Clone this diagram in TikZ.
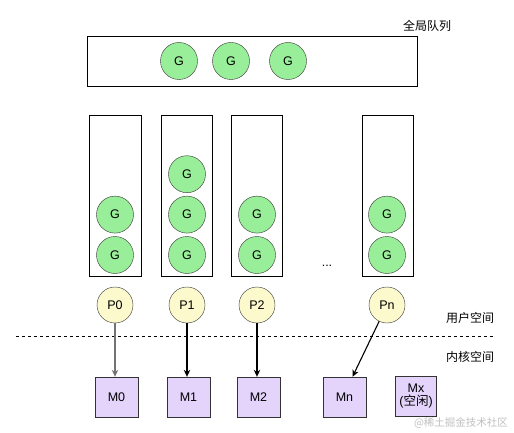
\documentclass[tikz,border=0pt]{standalone}
\usepackage{fontspec}
\setmainfont{Liberation Sans}
\newfontfamily\cjk{Noto Sans CJK SC}
\usepackage{xcolor}
\usepackage{tikz}
\usetikzlibrary{arrows.meta,positioning}
\definecolor{gGreen}{RGB}{153,238,153}
\definecolor{pYellow}{RGB}{252,250,204}
\definecolor{mPurple}{RGB}{228,212,252}
\definecolor{lineGray}{RGB}{51,51,51}

\begin{document}
\begin{tikzpicture}[
    x=1pt, y=-1pt,
    font=\fontsize{12.5pt}{14pt}\selectfont,
    node distance=3pt,
    queueBox/.style={
        rectangle,
        draw=black,
        line width=1pt,
        inner sep=0pt
    },
    gNode/.style={
        circle,
        draw=lineGray,
        fill=gGreen,
        minimum size=37pt,
        inner sep=0pt
    },
    pNode/.style={
        circle,
        draw=lineGray,
        fill=pYellow,
        minimum size=36pt,
        inner sep=0pt
    },
    mNode/.style={
        rectangle,
        draw=lineGray,
        fill=mPurple,
        minimum width=43pt,
        minimum height=40pt,
        inner sep=0pt,
        align=center,
        font=\fontsize{12.5pt}{13pt}\selectfont
    },
    spaceLabel/.style={font=\fontsize{12pt}{14pt}\selectfont\cjk},
    arrow/.style={-{Stealth[length=7pt,width=6.5pt]}, line width=1.1pt, draw=black}
]
    \useasboundingbox (0,0) rectangle (514,433);

    % global run queue
    \node[queueBox, minimum width=330pt, minimum height=50pt] (queue) at (252,62) {};
    \node[spaceLabel] (queueLabel) at (427,26) {全局队列};
    \node[gNode] (gq1) at (179,61) {G};
    \node[gNode] (gq2) at (231,61) {G};
    \node[gNode] (gq3) at (288,61) {G};

    % local run queues
    \node[queueBox, minimum width=52pt, minimum height=160pt] (lq0) at (115,196) {};
    \node[queueBox, minimum width=51pt, minimum height=160pt] (lq1) at (186.5,196) {};
    \node[queueBox, minimum width=51pt, minimum height=160pt] (lq2) at (256.5,196) {};
    \node[queueBox, minimum width=51pt, minimum height=160pt] (lqn) at (387.5,196) {};

    \node[gNode] (g0a) at (115,255) {G};
    \node[gNode, above=of g0a] (g0b) {G};
    \node[gNode] (g1a) at (187,255) {G};
    \node[gNode, above=of g1a] (g1b) {G};
    \node[gNode, above=of g1b] (g1c) {G};
    \node[gNode] (g2a) at (257,255) {G};
    \node[gNode, above=of g2a] (g2b) {G};
    \node[gNode] (gna) at (387,255) {G};
    \node[gNode, above=of gna] (gnb) {G};
    \node (dots) at (327,266) {...};

    % processors
    \node[pNode] (P0) at (115,305) {P0};
    \node[pNode] (P1) at (187,305) {P1};
    \node[pNode] (P2) at (257,305) {P2};
    \node[pNode] (Pn) at (387,305) {Pn};

    % user / kernel split
    \coordinate (splitL) at (16,336);
    \coordinate (splitR) at (495,336);
    \draw[dashed, line width=1pt] (splitL) -- (splitR);
    \node[spaceLabel] (userLabel) at (470,318) {用户空间};
    \node[spaceLabel] (kernelLabel) at (470,357) {内核空间};

    % machines
    \node[mNode] (M0) at (116.5,397) {M0};
    \node[mNode] (M1) at (188.5,397) {M1};
    \node[mNode] (M2) at (258.5,397) {M2};
    \node[mNode] (Mn) at (344.5,397) {Mn};
    \node[mNode, minimum width=41pt] (Mx) at (416,396) {Mx\\({\cjk 空闲})};
    \coordinate (mnTop) at ([xshift=8pt]Mn.north);

    \draw[arrow, draw=black!55] (P0) -- (P0 |- M0.north);
    \draw[arrow] (P1) -- (P1 |- M1.north);
    \draw[arrow] (P2) -- (P2 |- M2.north);
    \draw[arrow] (Pn) -- (mnTop);

    \node[text=black!25, font=\fontsize{10.5pt}{11pt}\selectfont\cjk] (mark) at (461,423) {@稀土掘金技术社区};
\end{tikzpicture}
\end{document}
